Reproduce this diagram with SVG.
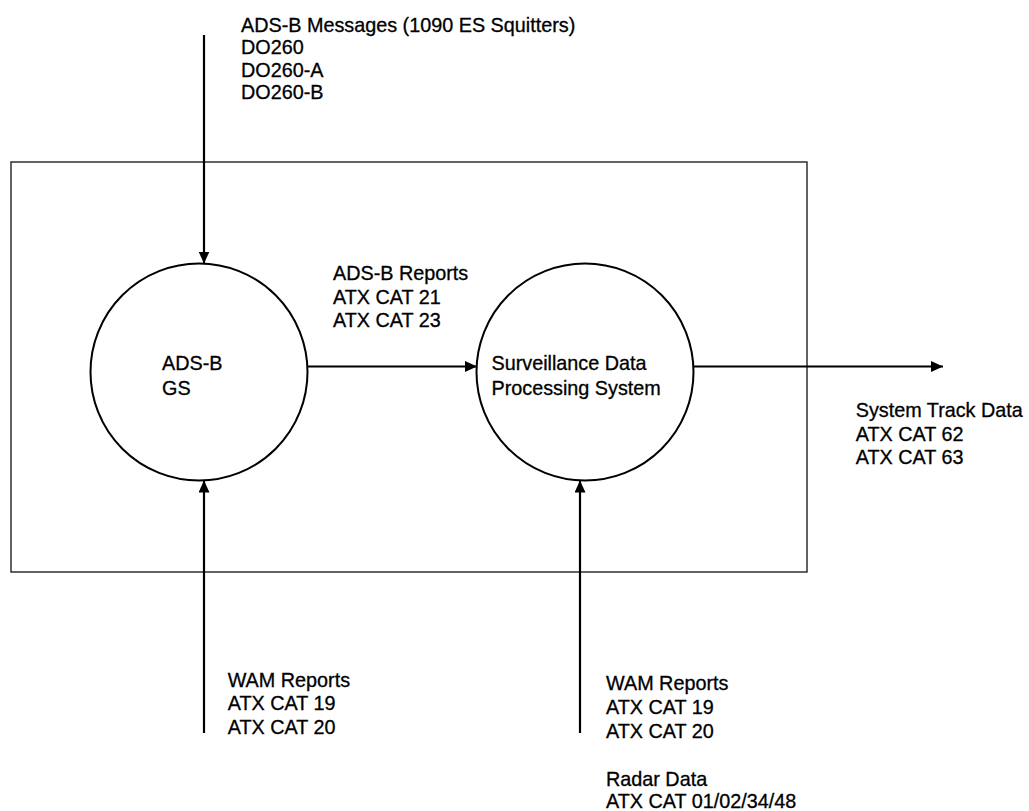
<svg xmlns="http://www.w3.org/2000/svg" width="1029" height="811" viewBox="0 0 1029 811">
<style>
text{font-family:"Liberation Sans",Arial,sans-serif;font-size:19.8px;fill:#000;stroke:#000;stroke-width:0.3}
.node{fill:#fff;stroke:#000;stroke-width:2}
.conn{stroke:#000;stroke-width:2.2;fill:none}
.box{fill:none;stroke:#222;stroke-width:1.4}
</style>
<defs>
<marker id="ah" viewBox="0 0 12 11" refX="12" refY="5.5" markerWidth="12" markerHeight="11" markerUnits="userSpaceOnUse" orient="auto">
<path d="M0,0 L12,5.5 L0,11 Z" fill="#000"/>
</marker>
</defs>
<rect width="1029" height="811" fill="#fff"/>
<g id="boundary"><rect class="box" x="11" y="162" width="796" height="410"/></g>
<g id="adsb-gs">
<circle class="node" cx="199" cy="372" r="108.5"/>
<text x="162" y="370">ADS-B</text>
<text x="162" y="395">GS</text>
</g>
<g id="sdps">
<circle class="node" cx="585" cy="372" r="108.5"/>
<text x="491.5" y="369.5">Surveillance Data</text>
<text x="491.5" y="395">Processing System</text>
</g>
<g id="connectors">
<line class="conn" x1="204" y1="35" x2="204" y2="263.5" marker-end="url(#ah)"/>
<line class="conn" x1="307" y1="366.5" x2="477" y2="366.5" marker-end="url(#ah)"/>
<line class="conn" x1="693.5" y1="366.5" x2="943" y2="366.5" marker-end="url(#ah)"/>
<line class="conn" x1="204" y1="733" x2="204" y2="480.5" marker-end="url(#ah)"/>
<line class="conn" x1="580" y1="733" x2="580" y2="480.5" marker-end="url(#ah)"/>
</g>
<g id="labels">
<text x="241" y="31.7">ADS-B Messages (1090 ES Squitters)</text>
<text x="241" y="54.3">DO260</text>
<text x="241" y="76.8">DO260-A</text>
<text x="241" y="99.3">DO260-B</text>
<text x="333" y="280">ADS-B Reports</text>
<text x="333" y="303.7">ATX CAT 21</text>
<text x="333" y="327.3">ATX CAT 23</text>
<text x="855.7" y="417.3">System Track Data</text>
<text x="855.7" y="440.5">ATX CAT 62</text>
<text x="855.7" y="464">ATX CAT 63</text>
<text x="227.7" y="686.7">WAM Reports</text>
<text x="227.7" y="710.3">ATX CAT 19</text>
<text x="227.7" y="734">ATX CAT 20</text>
<text x="606" y="690.3">WAM Reports</text>
<text x="606" y="714">ATX CAT 19</text>
<text x="606" y="738">ATX CAT 20</text>
<text x="606" y="785.7">Radar Data</text>
<text x="606" y="808">ATX CAT 01/02/34/48</text>
</g>
</svg>
